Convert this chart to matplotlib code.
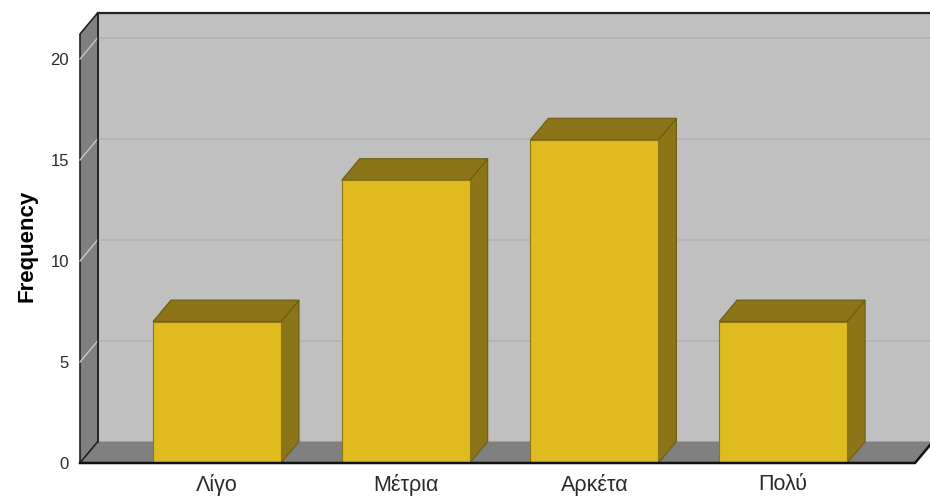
import numpy as np
import matplotlib.pyplot as plt
from matplotlib.patches import Polygon

plt.rcParams['font.family'] = ['Liberation Sans', 'DejaVu Sans']

categories = ['Λίγο', 'Μέτρια', 'Αρκέτα', 'Πολύ']
counts = [7, 14, 16, 7]
yticks = [0, 5, 10, 15, 20]

front_col = '#e0bb20'
shade_col = '#8b7518'
wall_col = '#c0c0c0'
side_col = '#808080'

W, H, DPI = 930, 497, 100
fig = plt.figure(figsize=(W / DPI, H / DPI), dpi=DPI)

# front plane of the box in pixels
x0, x1 = 80, 915
y_bot, y_top = 463, 34
ax = fig.add_axes([x0 / W, (H - y_bot) / H, (x1 - x0) / W, (y_bot - y_top) / H])

px_per_cat = 188.7
px_per_unit = 20.2
xmin = (x0 - 217) / px_per_cat
xmax = xmin + (x1 - x0) / px_per_cat
ymax = (y_bot - y_top) / px_per_unit
ax.set_xlim(xmin, xmax)
ax.set_ylim(0, ymax)

# depth offset of the box, in data units
dx = 18 / px_per_cat
dy = 21.5 / px_per_unit


def face(pts, fc, ec, lw=0.8, z=1):
    ax.add_patch(Polygon(pts, closed=True, facecolor=fc, edgecolor=ec,
                         linewidth=lw, zorder=z, clip_on=False))


# back wall
face([(xmin + dx, dy), (xmax + dx * 1.6, dy), (xmax + dx * 1.6, ymax + dy),
      (xmin + dx, ymax + dy)], wall_col, 'none', z=1)
ax.plot([xmin + dx, xmax + dx * 1.6], [ymax + dy, ymax + dy], color='#222222',
        lw=1.6, zorder=2, clip_on=False)
for v in yticks[1:]:
    ax.plot([xmin + dx, xmax + dx * 1.6], [v + dy, v + dy], color='#b2b2b2',
            lw=1.2, zorder=2, clip_on=False)

# left wall
face([(xmin, 0), (xmin + dx, dy), (xmin + dx, ymax + dy), (xmin, ymax)],
     side_col, '#222222', lw=1.2, z=3)
for v in yticks[1:]:
    ax.plot([xmin, xmin + dx], [v, v + dy], color='#c8c8c8', lw=1.0,
            zorder=4, clip_on=False)

# floor
face([(xmin, 0), (xmax, 0), (xmax + dx, dy), (xmin + dx, dy)],
     side_col, 'none', z=3)
ax.plot([xmin, xmin + dx], [0, dy], color='#222222', lw=1.0, zorder=4, clip_on=False)
ax.plot([xmin + dx, xmin + dx], [dy, ymax + dy], color='#222222', lw=1.2,
        zorder=4, clip_on=False)

# bars
bw = 128 / px_per_cat
for i, c in enumerate(counts):
    l, r = i - bw / 2, i + bw / 2
    face([(r, 0), (r + dx, dy), (r + dx, c + dy), (r, c)], shade_col, '#6e5c0c', z=5)
    face([(l, c), (r, c), (r + dx, c + dy), (l + dx, c + dy)], shade_col, '#6e5c0c', z=5)
    face([(l, 0), (r, 0), (r, c), (l, c)], front_col, '#8b7518', z=6)

# front edge of the floor
ax.plot([xmin, xmax, xmax + dx], [0, 0, dy], color='#111111', lw=1.8,
        zorder=7, clip_on=False)

for s in ax.spines.values():
    s.set_visible(False)
ax.set_xticks(range(len(categories)))
ax.set_xticklabels(categories, fontsize=15.5, color='#2a2a2a')
ax.set_yticks(yticks)
ax.set_yticklabels([str(v) for v in yticks], fontsize=12, color='#2a2a2a')
ax.tick_params(axis='x', length=0, pad=8)
ax.tick_params(axis='y', length=0, pad=8)
ax.set_ylabel('Frequency', fontsize=16, fontweight='bold')
ax.yaxis.set_label_coords(-0.051, 0.505)
ax.patch.set_visible(False)

fig.savefig('out.png', dpi=DPI)
